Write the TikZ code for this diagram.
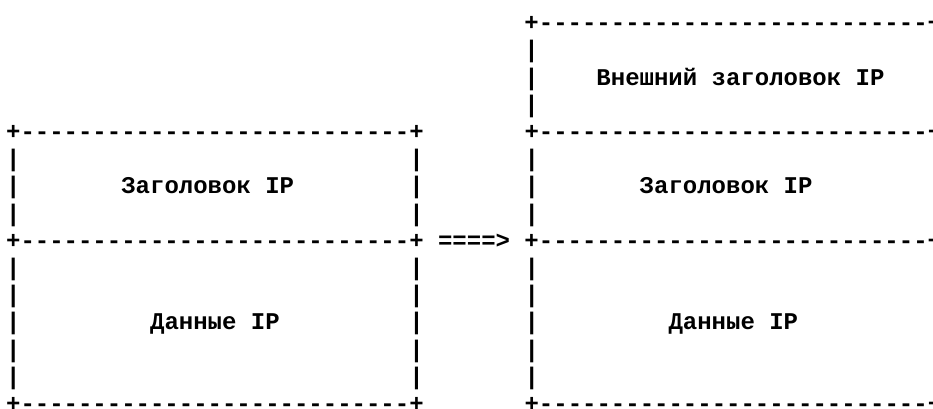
\documentclass[tikz,border=0pt]{standalone}
\usepackage{fontspec}
\setmonofont{Liberation Mono}
\newdimen\chw \chw=10.8pt
\newcommand{\sk}[1]{\kern#1\chw}
\newcommand{\dsh}{---------------------------}
\newcommand{\emptyrow}{|\sk{27}|\sk{7}|\sk{27}|}
\newcommand{\edgerow}{+\dsh+\sk{7}+\dsh+}
\tikzset{
  asc/.style={anchor=base west, inner sep=0pt, outer sep=0pt,
    font=\ttfamily\bfseries\fontsize{18pt}{20.4pt}\selectfont, text=black}
}
\begin{document}
\begin{tikzpicture}[x=0.75pt,y=-0.75pt]
\fill[white] (0,0) rectangle (933,408);
\useasboundingbox (0,0) rectangle (933,408);
\def\rx{6.1}
\node[asc] (row0)  at (\rx, 30.7)  {\sk{36}+\dsh+};
\node[asc] (row1)  at (\rx, 57.9)  {\sk{36}|\sk{27}|};
\node[asc] (row2)  at (\rx, 85.1)  {\sk{36}|\sk{4}Внешний заголовок IP\sk{3}|};
\node[asc] (row3)  at (\rx, 112.3) {\sk{36}|\sk{27}|};
\node[asc] (row4)  at (\rx, 139.5) {\edgerow};
\node[asc] (row5)  at (\rx, 166.7) {\emptyrow};
\node[asc] (row6)  at (\rx, 193.9) {|\sk{7}Заголовок IP\sk{8}|\sk{7}|\sk{7}Заголовок IP\sk{8}|};
\node[asc] (row7)  at (\rx, 221.1) {\emptyrow};
\node[asc] (row8)  at (\rx, 248.3) {+\dsh+\sk{1}====>\sk{1}+\dsh+};
\node[asc] (row9)  at (\rx, 275.5) {\emptyrow};
\node[asc] (row10) at (\rx, 302.7) {\emptyrow};
\node[asc] (row11) at (\rx, 329.9) {|\sk{9}Данные IP\sk{9}|\sk{7}|\sk{9}Данные IP\sk{9}|};
\node[asc] (row12) at (\rx, 357.1) {\emptyrow};
\node[asc] (row13) at (\rx, 384.3) {\emptyrow};
\node[asc] (row14) at (\rx, 411.5) {\edgerow};
\end{tikzpicture}
\end{document}
